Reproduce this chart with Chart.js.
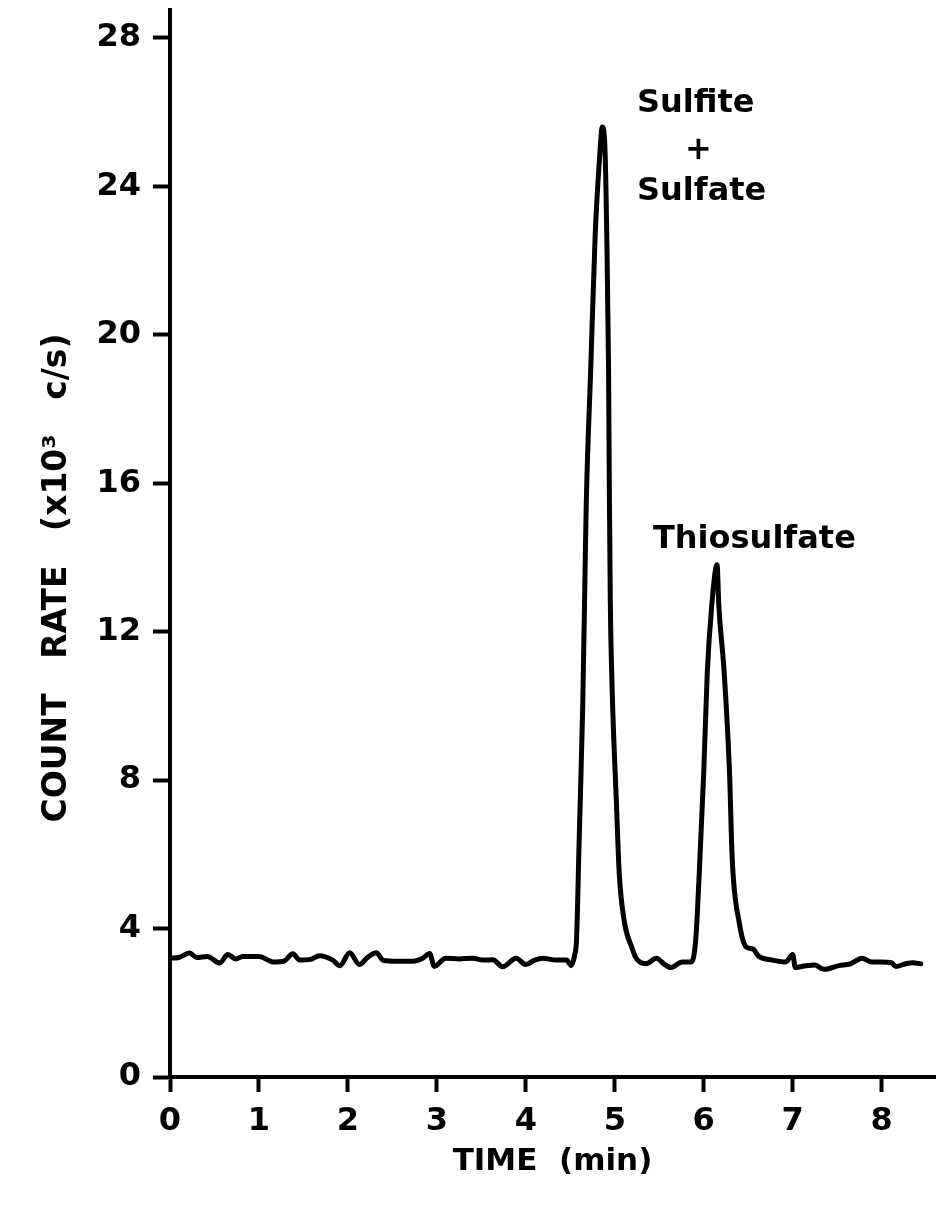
<!DOCTYPE html>
<html>
<head>
<meta charset="utf-8">
<title>Sulfur species chromatogram</title>
<script src="https://cdn.jsdelivr.net/npm/chart.js@4"></script>
<style>
  html, body { margin: 0; padding: 0; background: #fff; }
  canvas { display: block; }
</style>
</head>
<body>
<canvas id="myChart" width="938" height="1217"></canvas>
<script>
"use strict"
// Retention time (min) and detector count rate (x10^3 c/s)
const time = [
  0.00, 0.10, 0.22, 0.30, 0.42, 0.56, 0.65, 0.74, 0.82, 1.00,
  1.16, 1.28, 1.38, 1.46, 1.58, 1.68, 1.83, 1.91, 2.02, 2.13,
  2.22, 2.32, 2.40, 2.55, 2.73, 2.84, 2.92, 2.97, 3.10, 3.25,
  3.40, 3.52, 3.63, 3.74, 3.89, 4.00, 4.10, 4.19, 4.34, 4.46,
  4.51, 4.55, 4.57, 4.60, 4.64, 4.67, 4.68, 4.73, 4.78, 4.83,
  4.86, 4.89, 4.91, 4.93, 4.94, 4.95, 4.97, 5.02, 5.05, 5.11,
  5.19, 5.24, 5.35, 5.47, 5.55, 5.63, 5.76, 5.86, 5.91, 5.95,
  6.00, 6.04, 6.09, 6.15, 6.17, 6.23, 6.29, 6.32, 6.40, 6.48,
  6.55, 6.62, 6.77, 6.92, 7.00, 7.03, 7.15, 7.25, 7.35, 7.52,
  7.65, 7.78, 7.89, 8.00, 8.11, 8.16, 8.27, 8.35, 8.44
];
const countRate = [
  3.20, 3.22, 3.34, 3.22, 3.25, 3.07, 3.30, 3.18, 3.25, 3.25,
  3.10, 3.12, 3.32, 3.15, 3.17, 3.27, 3.15, 3.00, 3.35, 3.03,
  3.22, 3.35, 3.14, 3.12, 3.12, 3.20, 3.33, 2.98, 3.20, 3.18,
  3.20, 3.15, 3.16, 2.97, 3.20, 3.03, 3.15, 3.20, 3.15, 3.15,
  3.00, 3.30, 3.70, 6.40, 10.0, 14.2, 15.5, 19.1, 22.7, 24.8,
  25.6, 25.0, 22.7, 19.1, 15.5, 12.8, 10.5, 7.30, 5.50, 4.15,
  3.50, 3.20, 3.05, 3.20, 3.05, 2.95, 3.10, 3.10, 3.70, 5.50,
  8.20, 10.9, 12.7, 13.8, 12.7, 10.9, 8.20, 5.90, 4.15, 3.50,
  3.45, 3.25, 3.15, 3.10, 3.30, 2.95, 3.00, 3.02, 2.90, 3.00,
  3.05, 3.20, 3.10, 3.10, 3.08, 2.98, 3.05, 3.08, 3.05
];

const xTicks = [0, 1, 2, 3, 4, 5, 6, 7, 8];
const yTicks = [0, 4, 8, 12, 16, 20, 24, 28];
const peakLabels = ['Sulfite', '+', 'Sulfate', 'Thiosulfate'];

const FONT = "'DejaVu Sans', 'Liberation Sans', sans-serif";

let points = [];
for (let i = 0; i < time.length; i++) {
  points.push({x: time[i], y: countRate[i]});
}

// Peak names written above the two peaks
const peakNames = {
  id: 'peakNames',
  afterDatasetsDraw(chart) {
    const ctx = chart.ctx;
    const x = chart.scales.x, y = chart.scales.y;
    ctx.save();
    ctx.fillStyle = '#000';
    ctx.font = 'bold 32px ' + FONT;
    ctx.textBaseline = 'alphabetic';
    ctx.textAlign = 'left';
    ctx.fillText(peakLabels[0], x.getPixelForValue(5.25), y.getPixelForValue(26.0));
    ctx.fillText(peakLabels[2], x.getPixelForValue(5.25), y.getPixelForValue(23.63));
    ctx.textAlign = 'center';
    ctx.fillText(peakLabels[1], x.getPixelForValue(5.94), y.getPixelForValue(24.74));
    ctx.fillText(peakLabels[3], x.getPixelForValue(6.57), y.getPixelForValue(14.25));
    ctx.restore();
  }
};

const config = {
  type: 'line',
  data: {
    datasets: [{
      data: points,
      borderColor: '#000',
      borderWidth: 5,
      pointRadius: 0,
      cubicInterpolationMode: 'monotone',
      borderJoinStyle: 'round',
      borderCapStyle: 'round',
      fill: false
    }]
  },
  options: {
    responsive: false,
    animation: false,
    layout: {padding: {top: 10, right: 3, left: 0, bottom: 0}},
    plugins: {legend: {display: false}, tooltip: {enabled: false}},
    scales: {
      x: {
        type: 'linear',
        min: 0,
        max: 8.6,
        afterBuildTicks: s => { s.ticks = xTicks.map(v => ({value: v})); },
        afterFit: s => { s.height = 140; s.paddingLeft = 0; s.paddingRight = 0; },
        border: {display: true, color: '#000', width: 4},
        grid: {drawOnChartArea: false, color: '#000', tickLength: 15, tickWidth: 4},
        ticks: {color: '#000', padding: 10, maxRotation: 0, font: {family: FONT, size: 32, weight: 'bold'}},
        title: {
          display: true,
          text: 'TIME  (min)',
          color: '#000',
          padding: {top: 0, bottom: 36},
          font: {family: FONT, size: 31, weight: 'bold'}
        }
      },
      y: {
        type: 'linear',
        min: 0,
        max: 28.75,
        afterBuildTicks: s => { s.ticks = yTicks.map(v => ({value: v})); },
        // the top label sits below the axis end, so no extra room is needed for it
        afterFit: s => { s.width = 170; s.paddingTop = 0; s.paddingBottom = 0; },
        border: {display: true, color: '#000', width: 4},
        grid: {drawOnChartArea: false, color: '#000', tickLength: 17, tickWidth: 4},
        ticks: {color: '#000', padding: 12, font: {family: FONT, size: 32, weight: 'bold'}},
        title: {
          display: true,
          text: 'COUNT   RATE   (x10\u00B3   c/s)      ',
          color: '#000',
          padding: {top: 38, bottom: 0},
          font: {family: FONT, size: 33, weight: 'bold'}
        }
      }
    }
  },
  plugins: [peakNames]
};

new Chart(document.getElementById('myChart'), config);
</script>
</body>
</html>
